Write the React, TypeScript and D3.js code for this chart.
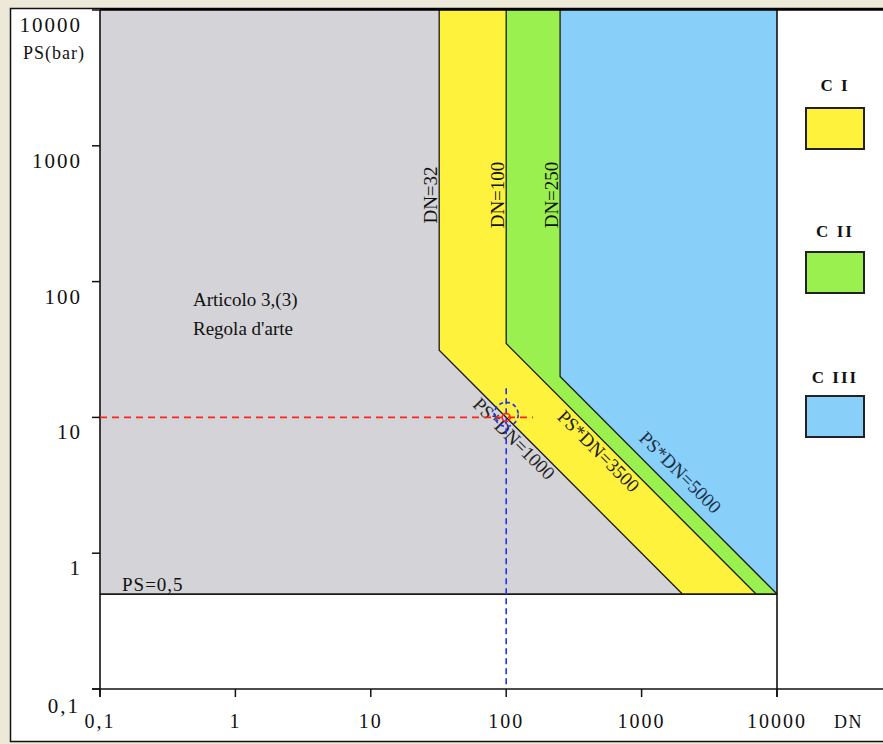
import * as React from "react";
import * as d3 from "d3";

// axis ticks (log decades) and their Italian labels
const xTicks = [0.1, 1, 10, 100, 1000, 10000];
const xTickLabels = ["0,1", "1", "10", "100", "1000", "10000"];
const yTicks = [0.1, 1, 10, 100, 1000, 10000];
const yTickLabels = ["0,1", "1", "10", "100", "1000", "10000"];

// category limits: vertical DN limit and PS*DN product
const dnLimits = [32, 100, 250];
const productLimits = [1000, 3500, 5000];
const psMin = 0.5;
const psMax = 10000;
const dnMin = 0.1;
const dnMax = 10000;

const categories = ["C I", "C II", "C III"];
const categoryColors = ["#FFF23C", "#9AF04E", "#88CFFA"];
const grayColor = "#D4D4D8";

// example point: DN 100, PS 10
const exampleDN = 100;
const examplePS = 10;

const font = "'Liberation Serif', 'DejaVu Serif', serif";

type P = [number, number];

const App = () => {
  const width = 883;
  const height = 744;

  const x = d3.scaleLog().domain([dnMin, dnMax]).range([100, 777]);
  const y = d3.scaleLog().domain([0.1, psMax]).range([689, 10]);

  const line = d3
    .line<P>()
    .x((d) => x(d[0]))
    .y((d) => y(d[1]));

  // boundary polyline of each limit, from top to PS=0.5
  const boundaries: P[][] = dnLimits.map((dn, i) => [
    [dn, psMax],
    [dn, productLimits[i] / dn],
    [productLimits[i] / psMin, psMin],
  ]);

  const regions: { pts: P[]; fill: string }[] = [
    {
      pts: [[dnMin, psMax], ...boundaries[0], [dnMin, psMin]],
      fill: grayColor,
    },
    {
      pts: [...boundaries[0], ...boundaries[1].slice().reverse()],
      fill: categoryColors[0],
    },
    {
      pts: [...boundaries[1], ...boundaries[2].slice().reverse()],
      fill: categoryColors[1],
    },
    {
      pts: [...boundaries[2], [dnMax, psMin], [dnMax, psMax]],
      fill: categoryColors[2],
    },
  ];

  // where along each diagonal the PS*DN label sits, and its side offset
  const diagLabelDN = [128, 546, 1567];
  const diagLabelDy = [16, 17, -11];

  const textStyle = { fontFamily: font, fill: "#111" };

  return (
    <svg
      width={width}
      height={height}
      viewBox={`0 0 ${width} ${height}`}
      style={{ position: "absolute", left: 0, top: 0, display: "block" }}
    >
      <rect x={0} y={0} width={width} height={height} fill="#ECE9D8" />
      <rect x={10.5} y={8.5} width={880} height={733} fill="#fff" stroke="#111" strokeWidth={1.5} />

      {regions.map((r, i) => (
        <path key={i} d={(line(r.pts) ?? "") + "Z"} fill={r.fill} />
      ))}

      {boundaries.map((b, i) => (
        <path key={i} d={line(b) ?? ""} fill="none" stroke="#1a1a1a" strokeWidth={1.3} />
      ))}

      {/* PS = 0,5 lower limit */}
      <line x1={x(dnMin)} x2={x(dnMax)} y1={y(psMin)} y2={y(psMin)} stroke="#1a1a1a" strokeWidth={1.6} />

      {/* frame: top border, axes */}
      <line x1={100} x2={883} y1={9.5} y2={9.5} stroke="#000" strokeWidth={2.5} />
      <line x1={x(dnMin)} x2={x(dnMin)} y1={10} y2={697} stroke="#111" strokeWidth={1.6} />
      <line x1={92} x2={883} y1={y(0.1)} y2={y(0.1)} stroke="#111" strokeWidth={1.6} />
      <line x1={x(dnMax)} x2={x(dnMax)} y1={10} y2={697} stroke="#111" strokeWidth={1.6} />

      {xTicks.map((t, i) => (
        <g key={i}>
          <line x1={x(t)} x2={x(t)} y1={y(0.1)} y2={y(0.1) + 8} stroke="#111" strokeWidth={1.5} />
          <text
            x={x(t)}
            y={728}
            textAnchor="middle"
            fontSize={20}
            letterSpacing={2}
            {...textStyle}
          >
            {xTickLabels[i]}
          </text>
        </g>
      ))}
      {yTicks.map((t, i) => (
        <g key={i}>
          <line x1={92} x2={x(dnMin)} y1={y(t)} y2={y(t)} stroke="#111" strokeWidth={1.5} />
          <text
            x={i === 0 ? 80 : 82}
            y={i === 0 ? 713 : y(t) + 22}
            textAnchor="end"
            fontSize={21}
            letterSpacing={2}
            {...textStyle}
          >
            {yTickLabels[i]}
          </text>
        </g>
      ))}

      <text x={23} y={59} fontSize={18} letterSpacing={1} {...textStyle}>
        PS(bar)
      </text>
      <text x={834} y={728} fontSize={18} letterSpacing={1.5} {...textStyle}>
        DN
      </text>

      {/* vertical DN labels */}
      {dnLimits.map((dn, i) => (
        <text
          key={i}
          transform={`translate(${x(dn) - 2},${195}) rotate(-90)`}
          textAnchor="middle"
          fontSize={19}
          {...textStyle}
        >
          {`DN=${dn}`}
        </text>
      ))}

      {/* PS*DN labels along diagonals */}
      {productLimits.map((k, i) => {
        const dn = diagLabelDN[i];
        return (
          <text
            key={i}
            transform={`translate(${x(dn)},${y(k / dn)}) rotate(45)`}
            y={diagLabelDy[i]}
            textAnchor="middle"
            fontSize={19}
            fill={i === 2 ? "#1d2f45" : "#222"}
            fontFamily={font}
          >
            {`PS*DN=${k}`}
          </text>
        );
      })}

      <text x={193} y={306} fontSize={19} {...textStyle}>
        Articolo 3,(3)
      </text>
      <text x={193} y={335} fontSize={19} {...textStyle}>
        Regola d'arte
      </text>
      <text x={122} y={591} fontSize={19} letterSpacing={1} {...textStyle}>
        PS=0,5
      </text>

      {/* example point */}
      <line
        x1={x(dnMin)}
        x2={x(158)}
        y1={y(examplePS)}
        y2={y(examplePS)}
        stroke="#FF2020"
        strokeWidth={1.6}
        strokeDasharray="7 5"
      />
      <line
        x1={x(exampleDN)}
        x2={x(exampleDN)}
        y1={y(16.4)}
        y2={y(0.1)}
        stroke="#2030FF"
        strokeWidth={1.6}
        strokeDasharray="6 4"
      />
      <circle
        cx={x(exampleDN)}
        cy={y(examplePS) - 3}
        r={12}
        fill="none"
        stroke="#2030FF"
        strokeWidth={1.6}
        strokeDasharray="4 3"
      />
      <circle cx={x(exampleDN)} cy={y(examplePS)} r={4} fill="none" stroke="#FF2020" strokeWidth={1.5} />

      {/* legend */}
      {categories.map((c, i) => (
        <g key={c}>
          <text
            x={835}
            y={91 + i * 146}
            textAnchor="middle"
            fontSize={17}
            fontWeight="bold"
            letterSpacing={2}
            {...textStyle}
          >
            {c}
          </text>
          <rect
            x={806}
            y={108 + i * 144}
            width={58}
            height={41}
            fill={categoryColors[i]}
            stroke="#222"
            strokeWidth={2}
          />
        </g>
      ))}
    </svg>
  );
};

export default App;
